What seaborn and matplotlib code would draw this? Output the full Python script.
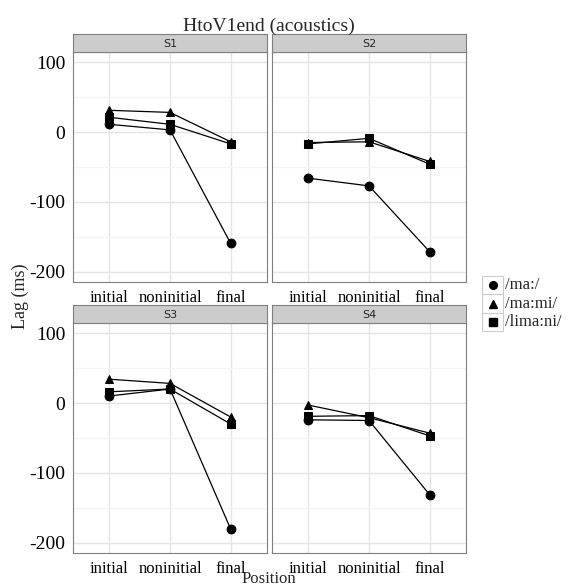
import pandas as pd
import matplotlib
matplotlib.use('Agg')
import matplotlib.pyplot as plt
import matplotlib.patches as mpatches
from matplotlib.lines import Line2D
import seaborn as sns

# Dados
positions = ['initial', 'noninitial', 'final']
subjects = ['S1', 'S2', 'S3', 'S4']
words = ['/ma:/', '/ma:mi/', '/lima:ni/']
markers = {'/ma:/': 'o', '/ma:mi/': '^', '/lima:ni/': 's'}

lag_ma = {'S1': [11, 3, -159], 'S2': [-66, -77, -171],
          'S3': [10, 20, -180], 'S4': [-24, -25, -131]}
lag_mami = {'S1': [31, 28, -14], 'S2': [-15, -14, -42],
            'S3': [34, 28, -20], 'S4': [-3, -21, -43]}
lag_limani = {'S1': [21, 11, -17], 'S2': [-17, -9, -46],
              'S3': [16, 20, -30], 'S4': [-19, -18, -47]}

rows = []
for word, tab in zip(words, [lag_ma, lag_mami, lag_limani]):
    for s in subjects:
        for p, v in zip(positions, tab[s]):
            rows.append({'Subject': s, 'Position': p, 'Word': word, 'Lag': v})
df = pd.DataFrame(rows)
df['pos_idx'] = df['Position'].map({p: i for i, p in enumerate(positions)})

sns.set_style('white')
serif = ['Liberation Serif', 'DejaVu Serif']
plt.rcParams['font.family'] = serif

W, H = 570, 588
fig = plt.figure(figsize=(W / 100, H / 100), dpi=100)

# posições dos painéis em pixels (esquerda, topo)
panel_px = {'S1': (73, 52), 'S2': (272, 52), 'S3': (73, 323), 'S4': (272, 323)}
pw, ph, sh = 194, 230, 18

for s in subjects:
    x0, y0 = panel_px[s]
    ax = fig.add_axes([x0 / W, (H - y0 - ph) / H, pw / W, ph / H])
    sub = df[df['Subject'] == s]
    sns.lineplot(data=sub, x='pos_idx', y='Lag', style='Word', style_order=words,
                 markers=markers, dashes=False, color='black', sort=False,
                 markersize=6.3, linewidth=0.9, markeredgecolor='black',
                 legend=False, ax=ax)
    ax.set_xlim(-0.6, 2.6)
    ax.set_ylim(-214.3, 114.3)
    ax.set_xticks(range(3))
    ax.set_xticklabels(positions)
    ax.set_yticks([100, 0, -100, -200])
    ax.set_yticklabels(['100', '0', '-100', '-200'])
    ax.set_yticks([50, -50, -150], minor=True)
    ax.grid(True, which='major', color='#e5e5e5', linewidth=1.0)
    ax.grid(True, which='minor', axis='y', color='#f5f5f5', linewidth=1.0)
    ax.set_axisbelow(True)
    for sp in ax.spines.values():
        sp.set_color('#7f7f7f')
        sp.set_linewidth(0.8)
    ax.tick_params(axis='both', which='major', length=3.5, width=0.8, color='#333333',
                   labelcolor='black', pad=2, direction='out')
    ax.tick_params(axis='x', labelsize=12)
    ax.tick_params(axis='y', labelsize=14)
    ax.tick_params(axis='both', which='minor', length=0)
    if s in ('S2', 'S4'):
        ax.set_yticklabels([])
        ax.tick_params(axis='y', length=0)
    ax.set_xlabel('')
    ax.set_ylabel('')

    # faixa do painel
    sax = fig.add_axes([x0 / W, (H - y0) / H, pw / W, sh / H])
    sax.set_facecolor('#cccccc')
    sax.set_xticks([])
    sax.set_yticks([])
    for sp in sax.spines.values():
        sp.set_color('#7f7f7f')
        sp.set_linewidth(0.8)
    sax.text(0.5, 0.45, s, ha='center', va='center', fontsize=8,
             family=['DejaVu Sans'], transform=sax.transAxes)

fig.text(268.5 / W, 1 - 31 / H, 'HtoV1end (acoustics)', ha='center', va='baseline', fontsize=14)
fig.text(20 / W, 1 - 296 / H, 'Lag (ms)', ha='center', va='center', rotation=90, fontsize=13)
fig.text(268.5 / W, 1 - 583 / H, 'Position', ha='center', va='baseline', fontsize=12)

# legenda
for i, word in enumerate(words):
    yc = 285 + 18.5 * i
    fig.patches.append(mpatches.Rectangle((482 / W, (H - yc - 9.25) / H), 21 / W, 18.5 / H,
                                          transform=fig.transFigure, facecolor='white',
                                          edgecolor='#cccccc', linewidth=0.8))
    fig.lines.append(Line2D([492.5 / W], [(H - yc) / H], marker=markers[word], color='black',
                            markersize=5.5, transform=fig.transFigure))
    fig.text(505 / W, (H - yc) / H, word, ha='left', va='center', fontsize=12)

fig.savefig('out.png', dpi=100)
